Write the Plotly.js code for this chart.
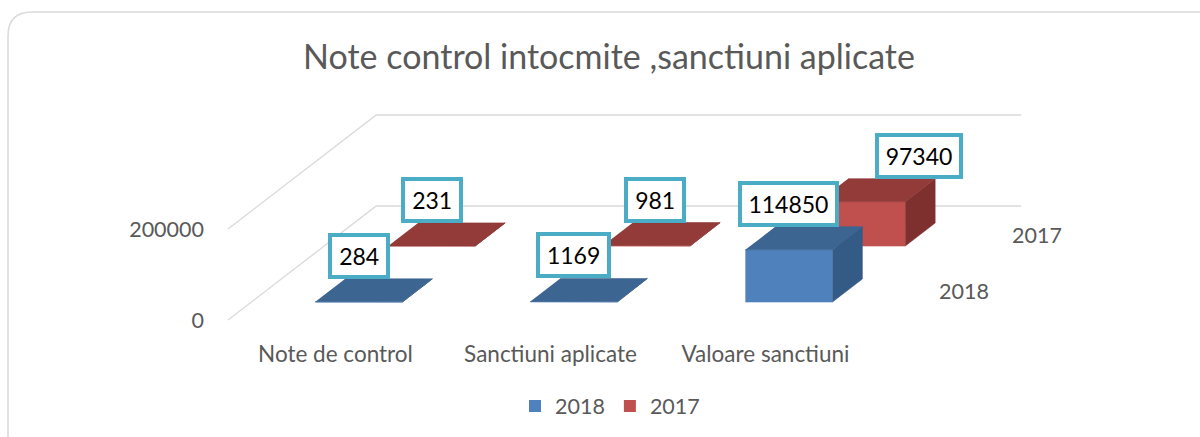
<!DOCTYPE html>
<html><head><meta charset="utf-8">
<script src="https://cdn.plot.ly/plotly-3.0.1.min.js"></script>
<style>html,body{margin:0;padding:0;background:#fff}#chart{width:1200px;height:437px}</style>
</head><body><div id="chart"></div>
<script>
// ---- data ----
const categories = ['Note de control', 'Sanctiuni aplicate', 'Valoare sanctiuni'];
const seriesNames = ['2018', '2017'];
const values2018 = [284, 1169, 114850];
const values2017 = [231, 981, 97340];
const yTickValues = [0, 200000];
const yTickLabels = ['0', '200000'];

// ---- style / geometry ----
const W = 1200, H = 437, L = 210, R = 0, T = 0, B = 99;
const plotW = W - L - R, plotH = H - T - B;
const PX_PER_CAT = 215, ORIGIN_X = 228, ORIGIN_Y = 320;
const PX_PER_TICK = 91;
const K = 200000 / PX_PER_TICK;          // value units per pixel
const SLOPE = 1.3;                       // oblique x shift per depth pixel
const FLOOR_DEPTH = 114;
const ROWS = [{d0: 18, depth: 23}, {d0: 74, depth: 23}];   // 2018 (front), 2017 (back)
const BAR_LEFT = 0.2975, BAR_W = 0.405;
const GRAY = '#595959', FONT = 'Lato, "Open Sans", sans-serif';
const COLORS = [
  {front: '#4f81bd', top: '#3d6592', side: '#345a86'},
  {front: '#c0504d', top: '#923b39', side: '#7e302e'}
];
const LABEL_SHIFT_X = [[0, 0, 0], [0, 8, 57]];

const series = [values2018, values2017];
const xRange = [(L - ORIGIN_X) / PX_PER_CAT, (W - R - ORIGIN_X) / PX_PER_CAT];
const yRange = [(ORIGIN_Y - (H - B)) * K, (ORIGIN_Y - T) * K];

function proj(x, v, d) { return [x + SLOPE * d / PX_PER_CAT, v + d * K]; }
function poly(pts, color) {
  return {
    type: 'scatter', mode: 'lines', x: pts.map(p => p[0]), y: pts.map(p => p[1]),
    fill: 'toself', fillcolor: color, line: {color: color, width: 0.6},
    hoverinfo: 'skip', showlegend: false
  };
}

const traces = [];
// oblique gridlines
yTickValues.forEach(t => {
  const a = proj(0, t, 0), b = proj(0, t, FLOOR_DEPTH), c = proj(categories.length, t, FLOOR_DEPTH);
  traces.push({type: 'scatter', mode: 'lines', x: [a[0], b[0], c[0]], y: [a[1], b[1], c[1]],
    line: {color: '#d9d9d9', width: 1.3}, hoverinfo: 'skip', showlegend: false});
});
// bars, back row first
for (let r = series.length - 1; r >= 0; r--) {
  const {d0, depth} = ROWS[r];
  const col = COLORS[r];
  series[r].forEach((v, i) => {
    const x0 = i + BAR_LEFT, x1 = x0 + BAR_W;
    traces.push(poly([proj(x0, 0, d0), proj(x1, 0, d0), proj(x1, v, d0), proj(x0, v, d0)], col.front));
    traces.push(poly([proj(x1, 0, d0), proj(x1, 0, d0 + depth), proj(x1, v, d0 + depth), proj(x1, v, d0)], col.side));
    traces.push(poly([proj(x0, v, d0), proj(x1, v, d0), proj(x1, v, d0 + depth), proj(x0, v, d0 + depth)], col.top));
  });
}
// legend entries
seriesNames.forEach((n, r) => traces.push({
  type: 'scatter', mode: 'markers', x: [null], y: [null], name: n,
  marker: {symbol: 'square', size: 12, color: COLORS[r].front}, hoverinfo: 'skip'
}));

const annotations = [];
series.forEach((vals, r) => {
  const d0 = ROWS[r].d0;
  vals.forEach((v, i) => {
    const p = proj(i + BAR_LEFT + BAR_W / 2, v, d0);
    const txt = String(v);
    annotations.push({
      x: p[0], y: p[1], xref: 'x', yref: 'y', text: txt, showarrow: false,
      xanchor: 'center', yanchor: 'middle', yshift: 46, xshift: LABEL_SHIFT_X[r][i],
      bgcolor: '#ffffff', bordercolor: '#4bacc6', borderwidth: 4, borderpad: 3,
      width: txt.length * 12.8 + 10, height: 32,
      font: {family: FONT, size: 23, color: '#000000'}
    });
  });
});
seriesNames.forEach((n, r) => {
  const p = proj(categories.length, 0, ROWS[r].d0 + ROWS[r].depth / 2);
  annotations.push({x: p[0], y: p[1], xref: 'x', yref: 'y', text: n, showarrow: false,
    xanchor: 'center', yanchor: 'middle', xshift: 53, font: {family: FONT, size: 21.5, color: GRAY}});
});

function P(px, py) { return ((px - L) / plotW).toFixed(5) + ',' + ((H - B - py) / plotH).toFixed(5); }
const rad = 24;
const borderPath = 'M' + P(1215, 12) + ' L' + P(8 + rad, 12) + ' Q' + P(8, 12) + ' ' + P(8, 12 + rad) + ' L' + P(8, 460);

const layout = {
  width: W, height: H, margin: {l: L, r: R, t: T, b: B},
  paper_bgcolor: '#ffffff', plot_bgcolor: 'rgba(0,0,0,0)',
  title: {text: 'Note control intocmite ,sanctiuni aplicate', font: {family: FONT, size: 34, color: GRAY},
    x: 609 / W, xref: 'container', xanchor: 'center', y: 1 - 57 / H, yref: 'container', yanchor: 'middle'},
  xaxis: {range: xRange, tickmode: 'array', tickvals: categories.map((c, i) => i + 0.5), ticktext: categories,
    showgrid: false, zeroline: false, showline: false, ticks: '', fixedrange: true,
    tickfont: {family: FONT, size: 22.5, color: GRAY}},
  yaxis: {range: yRange, tickmode: 'array', tickvals: yTickValues, ticktext: yTickLabels,
    showgrid: false, zeroline: false, showline: false, ticks: '', fixedrange: true, ticklabelstandoff: 5,
    tickfont: {family: FONT, size: 21.5, color: GRAY}},
  showlegend: true,
  legend: {orientation: 'h', x: (610 - L) / plotW, y: (H - B - 406) / plotH, xanchor: 'center', yanchor: 'middle',
    font: {family: FONT, size: 21.5, color: GRAY}, bgcolor: 'rgba(0,0,0,0)', itemwidth: 30},
  annotations: annotations,
  shapes: [{type: 'path', path: borderPath, xref: 'paper', yref: 'paper', line: {color: '#d9d9d9', width: 1.5}, layer: 'below'}]
};
Plotly.newPlot('chart', traces, layout, {staticPlot: true, displayModeBar: false});
</script></body></html>
